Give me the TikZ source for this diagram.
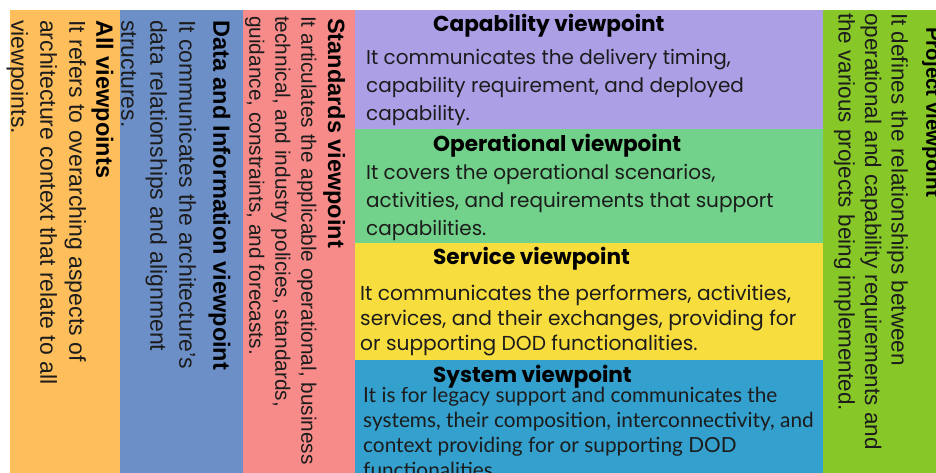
\documentclass[tikz,border=0pt]{standalone}
\usepackage{fontspec}
\setmainfont{Liberation Sans}
\newfontfamily\popfont{Poppins}
\newfontfamily\latofont{Lato}

% panel colours
\definecolor{allorange}{HTML}{FDBE5B}
\definecolor{datablue}{HTML}{6C8FC7}
\definecolor{stdsalmon}{HTML}{F78B8A}
\definecolor{cappurple}{HTML}{AC9FE6}
\definecolor{opgreen}{HTML}{72D18A}
\definecolor{svcyellow}{HTML}{F7DD3E}
\definecolor{sysblue}{HTML}{33A0CE}
\definecolor{projlime}{HTML}{87C727}
\definecolor{inkdark}{HTML}{1C1C1C}

\tikzset{
  panel/.style={inner sep=0pt, outer sep=0pt, anchor=south west},
  sidehead/.style={rotate=-90, anchor=north west, inner sep=0pt, text=black,
    font=\fontsize{23.5}{28}\selectfont\bfseries},
  sidetext/.style={rotate=-90, anchor=north west, inner sep=0pt, align=left,
    text=inkdark, font=\fontsize{23}{29}\selectfont},
  midhead/.style={anchor=base west, inner sep=0pt, text=black,
    font=\popfont\fontsize{21.6}{25}\selectfont\bfseries},
  midtext/.style={anchor=north west, inner sep=0pt, align=left, text=inkdark,
    font=\popfont\fontsize{20}{28}\selectfont},
}

\begin{document}
\begin{tikzpicture}[x=1pt, y=1pt]
  \useasboundingbox (0,0) rectangle (936,473);
  \clip (0,0) rectangle (936,473);
  \fill[white] (0,0) rectangle (936,473);

  % the columns and the stacked middle boxes
  \node[panel, fill=allorange, minimum width=110pt, minimum height=463pt] (allvp) at (10,0) {};
  \node[panel, fill=datablue, minimum width=123pt, minimum height=463pt] (datavp) at (allvp.south east) {};
  \node[panel, fill=stdsalmon, minimum width=112pt, minimum height=463pt] (stdvp) at (datavp.south east) {};
  \node[panel, fill=sysblue, minimum width=468pt, minimum height=113pt] (sysvp) at (stdvp.south east) {};
  \node[panel, fill=svcyellow, minimum width=468pt, minimum height=117pt] (svcvp) at (sysvp.north west) {};
  \node[panel, fill=opgreen, minimum width=468pt, minimum height=114pt] (opvp) at (svcvp.north west) {};
  \node[panel, fill=cappurple, minimum width=468pt, minimum height=119pt] (capvp) at (opvp.north west) {};
  \node[panel, fill=projlime, minimum width=113pt, minimum height=463pt] (projvp) at (sysvp.south east) {};

  % vertical columns
  \node[sidehead] (allhead) at ([shift={(-6.5,-10)}]allvp.north east) {All viewpoints};
  \node[sidetext] (alltext) at ([shift={(-33.7,-10)}]allvp.north east)
    {It refers to overarching aspects of\\architecture context that relate to all\\viewpoints.};

  \node[sidehead] (datahead) at ([shift={(-12.5,-10)}]datavp.north east) {Data and Information viewpoint};
  \node[sidetext] (datatext) at ([shift={(-46.7,-10)}]datavp.north east)
    {It communicates the architecture's\\data relationships and alignment\\structures.};

  \node[sidehead] (stdhead) at ([shift={(-9.6,-8)}]stdvp.north east) {Standards viewpoint};
  \node[sidetext, font=\fontsize{20.8}{26}\selectfont] (stdtext) at ([shift={(-38.3,-6)}]stdvp.north east)
    {It articulates the applicable operational, business\\technical, and industry policies, standards,\\guidance, constraints, and forecasts.};

  \node[sidehead, font=\fontsize{20.5}{25}\selectfont\bfseries] (projhead) at ([shift={(5.5,-17)}]projvp.north east) {Project viewpoint};
  \node[sidetext, font=\fontsize{22.5}{26.5}\selectfont] (projtext) at ([shift={(-28,-3)}]projvp.north east)
    {It defines the relationships between\\operational and capability requirements and\\the various projects being implemented.};

  % middle boxes
  \node[midhead] (caphead) at ([shift={(78,-22)}]capvp.north west) {Capability viewpoint};
  \node[midtext] (captext) at ([shift={(11,-39)}]capvp.north west)
    {It communicates the delivery timing,\\capability requirement, and deployed\\capability.};

  \node[midhead] (ophead) at ([shift={(78,-23)}]opvp.north west) {Operational viewpoint};
  \node[midtext] (optext) at ([shift={(11,-35)}]opvp.north west)
    {It covers the operational scenarios,\\activities, and requirements that support\\capabilities.};

  \node[midhead] (svchead) at ([shift={(78,-22)}]svcvp.north west) {Service viewpoint};
  \node[midtext, font=\popfont\fontsize{20.2}{25}\selectfont] (svctext) at ([shift={(5,-42)}]svcvp.north west)
    {It communicates the performers, activities,\\services, and their exchanges, providing for\\or supporting DOD functionalities.};

  \node[midhead] (syshead) at ([shift={(78,-23)}]sysvp.north west) {System viewpoint};
  \node[midtext, font=\latofont\fontsize{20.8}{25}\selectfont] (systext) at ([shift={(8,-27)}]sysvp.north west)
    {It is for legacy support and communicates the\\systems, their composition, interconnectivity, and\\context providing for or supporting DOD\\functionalities.};
\end{tikzpicture}
\end{document}
